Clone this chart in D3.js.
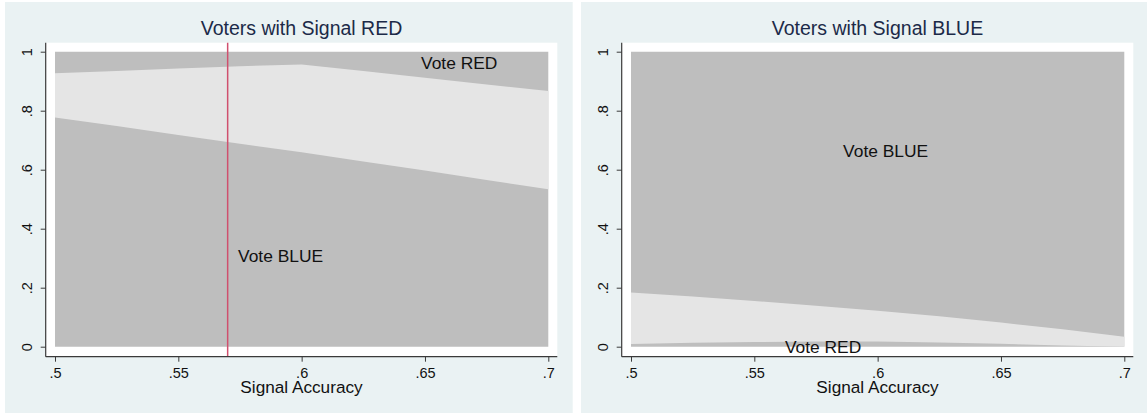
<!DOCTYPE html>
<html>
<head>
<meta charset="utf-8">
<script src="https://d3js.org/d3.v7.min.js"></script>
<style>
  body { margin: 0; background: #ffffff; }
  text { font-family: "Liberation Sans", Arial, sans-serif; }
</style>
</head>
<body>
<div id="chart-section"></div>
<script>
// data --------------------------------------------------------------
var accuracy = [0.5, 0.525, 0.55, 0.575, 0.6, 0.625, 0.65, 0.675, 0.7];

// signal RED panel: lower and upper edge of the mixed band
var redSignalLower = [0.777, 0.748, 0.718, 0.688, 0.659, 0.628, 0.597, 0.565, 0.534];
var redSignalUpper = [0.927, 0.935, 0.943, 0.951, 0.957, 0.935, 0.912, 0.889, 0.867];

// signal BLUE panel
var blueSignalLower = [0.009, 0.013, 0.016, 0.018, 0.018, 0.014, 0.010, 0.004, 0.0];
var blueSignalUpper = [0.184, 0.170, 0.155, 0.139, 0.122, 0.103, 0.082, 0.059, 0.034];

var xTicks = [0.5, 0.55, 0.6, 0.65, 0.7];
var xTickLabels = [".5", ".55", ".6", ".65", ".7"];
var yTicks = [0, 0.2, 0.4, 0.6, 0.8, 1];
var yTickLabels = ["0", ".2", ".4", ".6", ".8", "1"];

var panelTitles = ["Voters with Signal RED", "Voters with Signal BLUE"];
var xAxisTitle = "Signal Accuracy";
var markerAccuracy = 0.57;   // red vertical line, left panel only

// region labels: [text, accuracy, share]
var redLabels = [["Vote RED", 0.6484, 0.940], ["Vote BLUE", 0.5742, 0.287]];
var blueLabels = [["Vote BLUE", 0.586, 0.643], ["Vote RED", 0.5624, -0.022]];

// Global settings ---------------------------------------------------
var svgScreen = { width: 1147, height: 414 };
var panelShift = 576;

var panelBox = { x: 5, y: 2, width: 567.7, height: 411 };
var plotBox = { left: 45.7, right: 557.3, top: 42.7, bottom: 356.7 };
var dataRange = { x0: 55, x1: 548.3, y0: 346.7, y1: 51.7 };

var colors = {
  panel: "#eaf2f3",
  dark: "#bebebe",
  light: "#e5e5e5",
  title: "#1c2a48",
  axis: "#3a3a3a",
  marker: "#d0506e"
};

var svg = d3.select("#chart-section")
  .append("svg")
  .attr("width", svgScreen.width)
  .attr("height", svgScreen.height);

var drawPanel = function(offset, lower, upper, title, labels, withMarker){
  var g = svg.append("g").attr("transform", "translate(" + offset + ",0)");

  var xScale = d3.scaleLinear().domain([0.5, 0.7]).range([dataRange.x0, dataRange.x1]);
  var yScale = d3.scaleLinear().domain([0, 1]).range([dataRange.y0, dataRange.y1]);

  g.append("rect")
    .attr("x", panelBox.x).attr("y", panelBox.y)
    .attr("width", panelBox.width).attr("height", panelBox.height)
    .attr("fill", colors.panel);

  g.append("rect")
    .attr("x", plotBox.left).attr("y", plotBox.top)
    .attr("width", plotBox.right - plotBox.left)
    .attr("height", plotBox.bottom - plotBox.top)
    .attr("fill", "#ffffff");

  // full dark block, then the light band on top of it
  var fullArea = d3.area()
    .x(function(d){ return xScale(d); })
    .y0(yScale(0))
    .y1(yScale(1));

  g.append("path")
    .datum(accuracy)
    .attr("fill", colors.dark)
    .attr("d", fullArea);

  var band = d3.area()
    .x(function(d){ return xScale(d); })
    .y0(function(d, i){ return yScale(lower[i]); })
    .y1(function(d, i){ return yScale(upper[i]); });

  g.append("path")
    .datum(accuracy)
    .attr("fill", colors.light)
    .attr("d", band);

  if (withMarker){
    g.append("line")
      .attr("x1", xScale(markerAccuracy)).attr("x2", xScale(markerAccuracy))
      .attr("y1", plotBox.top).attr("y2", plotBox.bottom)
      .attr("stroke", colors.marker)
      .attr("stroke-width", 1.5);
  }

  labels.forEach(function(lab){
    g.append("text")
      .attr("x", xScale(lab[1]))
      .attr("y", yScale(lab[2]))
      .attr("font-size", "17.4px")
      .attr("fill", "#111111")
      .text(lab[0]);
  });

  // axes
  var xAxis = d3.axisBottom(xScale)
    .tickValues(xTicks)
    .tickSize(5)
    .tickFormat(function(d, i){ return xTickLabels[i]; });
  var yAxis = d3.axisLeft(yScale)
    .tickValues(yTicks)
    .tickSize(5)
    .tickFormat(function(d, i){ return yTickLabels[i]; });

  var gx = g.append("g")
    .attr("transform", "translate(0," + plotBox.bottom + ")")
    .call(xAxis);
  gx.select(".domain").remove();
  gx.selectAll("text")
    .attr("y", 21.8).attr("dy", 0)
    .attr("font-size", "14.5px")
    .attr("font-family", "Liberation Sans, Arial, sans-serif")
    .attr("fill", "#111111");

  var gy = g.append("g")
    .attr("transform", "translate(" + plotBox.left + ",0)")
    .call(yAxis);
  gy.select(".domain").remove();
  gy.selectAll("text")
    .attr("x", 0).attr("y", -13.7).attr("dy", 0)
    .attr("transform", "rotate(-90)")
    .attr("text-anchor", "middle")
    .attr("font-size", "14.5px")
    .attr("font-family", "Liberation Sans, Arial, sans-serif")
    .attr("fill", "#111111");

  g.selectAll(".tick line").attr("stroke", colors.axis);

  g.append("line")
    .attr("x1", plotBox.left).attr("x2", plotBox.left)
    .attr("y1", plotBox.top).attr("y2", plotBox.bottom)
    .attr("stroke", colors.axis).attr("stroke-width", 1.2);
  g.append("line")
    .attr("x1", plotBox.left).attr("x2", plotBox.right)
    .attr("y1", plotBox.bottom).attr("y2", plotBox.bottom)
    .attr("stroke", colors.axis).attr("stroke-width", 1.2);

  var mid = (plotBox.left + plotBox.right) / 2;
  g.append("text")
    .attr("x", mid).attr("y", 35)
    .attr("text-anchor", "middle")
    .attr("font-size", "19.5px")
    .attr("fill", colors.title)
    .text(title);

  g.append("text")
    .attr("x", mid).attr("y", 393)
    .attr("text-anchor", "middle")
    .attr("font-size", "17.2px")
    .attr("fill", "#111111")
    .text(xAxisTitle);
};

drawPanel(0, redSignalLower, redSignalUpper, panelTitles[0], redLabels, true);
drawPanel(panelShift, blueSignalLower, blueSignalUpper, panelTitles[1], blueLabels, false);
</script>
</body>
</html>
